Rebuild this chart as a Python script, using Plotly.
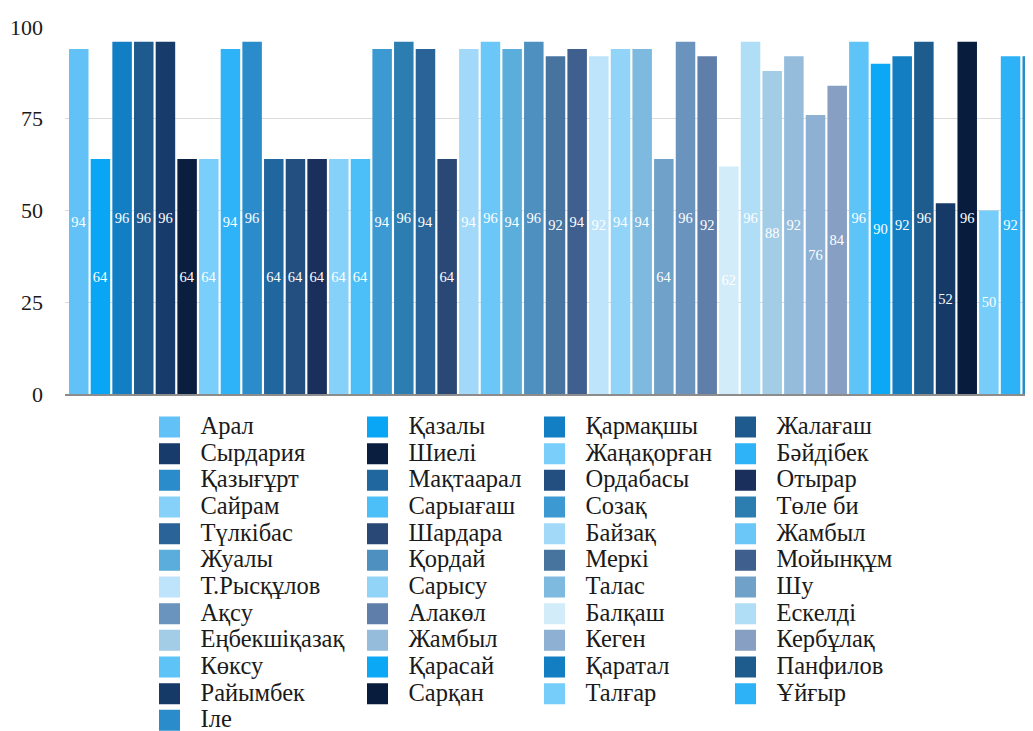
import plotly.graph_objects as go

names = ["Арал", "Қазалы", "Қармақшы", "Жалағаш",
         "Сырдария", "Шиелі", "Жаңақорған", "Бәйдібек",
         "Қазығұрт", "Мақтаарал", "Ордабасы", "Отырар",
         "Сайрам", "Сарыағаш", "Созақ", "Төле би",
         "Түлкібас", "Шардара", "Байзақ", "Жамбыл",
         "Жуалы", "Қордай", "Меркі", "Мойынқұм",
         "Т.Рысқұлов", "Сарысу", "Талас", "Шу",
         "Ақсу", "Алакөл", "Балқаш", "Ескелді",
         "Еңбекшіқазақ", "Жамбыл", "Кеген", "Кербұлақ",
         "Көксу", "Қарасай", "Қаратал", "Панфилов",
         "Райымбек", "Сарқан", "Талғар", "Ұйғыр",
         "Іле"]

values = [94, 64, 96, 96,
          96, 64, 64, 94,
          96, 64, 64, 64,
          64, 64, 94, 96,
          94, 64, 94, 96,
          94, 96, 92, 94,
          92, 94, 94, 64,
          96, 92, 62, 96,
          88, 92, 76, 84,
          96, 90, 92, 96,
          52, 96, 50, 92,
          92]

colors = ["#62C2F7", "#08A6F4", "#127EC3", "#1E5A8E",
          "#173B6B", "#0A1E40", "#7ACEFA", "#2FB3F8",
          "#2A8CCB", "#21679F", "#234F80", "#1A2F5B",
          "#86D1FA", "#4CBEF8", "#3D99D1", "#2D7EB0",
          "#296397", "#2A4876", "#A2D9F9", "#6BC7F8",
          "#5BADDC", "#4E90BF", "#47749F", "#3F5F8E",
          "#BDE4FA", "#92D3F8", "#7EB9E0", "#70A2C9",
          "#6A93BE", "#5F7EA9", "#D3ECFA", "#B1DEF7",
          "#A3CCE7", "#95BCDB", "#8EB0D2", "#889FC4",
          "#5EC4F8", "#0AA8F5", "#137FC2", "#1F5C8E",
          "#163A68", "#081D3E", "#76CDF9", "#2DB2F8",
          "#2A8CCB"]

y_ticks = [0, 25, 50, 75, 100]

FONT = "Liberation Serif, Times New Roman, DejaVu Serif, serif"

fig = go.Figure()

for i, (n, v, c) in enumerate(zip(names, values, colors)):
    fig.add_trace(go.Bar(
        x=[i], y=[v], name=n, width=0.9,
        marker=dict(color=c, line=dict(width=0)),
        text=[v], textposition="inside", insidetextanchor="middle",
        textangle=0, constraintext="none",
        textfont=dict(family=FONT, size=14.5, color="white"),
        showlegend=False,
    ))

# legend entries (four column legends, row-major order like the source)
for i, (n, c) in enumerate(zip(names, colors)):
    k = i % 4
    fig.add_trace(go.Scatter(
        x=[None], y=[None], mode="markers", name=f'<span style="font-size:24.5px">{n}</span>',
        marker=dict(symbol="square", size=16, color=c, line=dict(color=c, width=5)),
        legend="legend" if k == 0 else f"legend{k+1}",
        showlegend=True, hoverinfo="skip",
    ))

W, H = 1033, 731
col_origins = [130.5, 338.5, 515.5, 706.5]
leg_top = 400.7

legend_common = dict(
    xref="container", yref="container", xanchor="left", yanchor="top",
    orientation="v", bgcolor="rgba(0,0,0,0)", borderwidth=0,
    font=dict(family=FONT, size=18.2, color="#1a1a1a"),
    itemwidth=52, tracegroupgap=0,
)

layout_legends = {}
for k, ox in enumerate(col_origins):
    key = "legend" if k == 0 else f"legend{k+1}"
    layout_legends[key] = dict(legend_common, x=ox / W, y=1 - leg_top / H)

fig.update_layout(
    width=W, height=H,
    margin=dict(l=57, r=0, t=19, b=345, pad=0, autoexpand=False),
    plot_bgcolor="white", paper_bgcolor="white",
    barmode="overlay",
    font=dict(family=FONT, color="#1a1a1a"),
    xaxis=dict(range=[-0.635, 44.405], showticklabels=False, showgrid=False,
               zeroline=False, showline=True, linecolor="#8c8c8c", linewidth=1.5,
               ticks="", automargin=False),
    yaxis=dict(range=[0, 100], tickvals=y_ticks, showgrid=True, gridcolor="#dcdcdc",
               gridwidth=1, zeroline=False, showline=False, ticks="",
               ticklabelstandoff=21, automargin=False,
               tickfont=dict(family=FONT, size=22, color="#1a1a1a")),
    **layout_legends,
)

fig.write_html("out.html")
